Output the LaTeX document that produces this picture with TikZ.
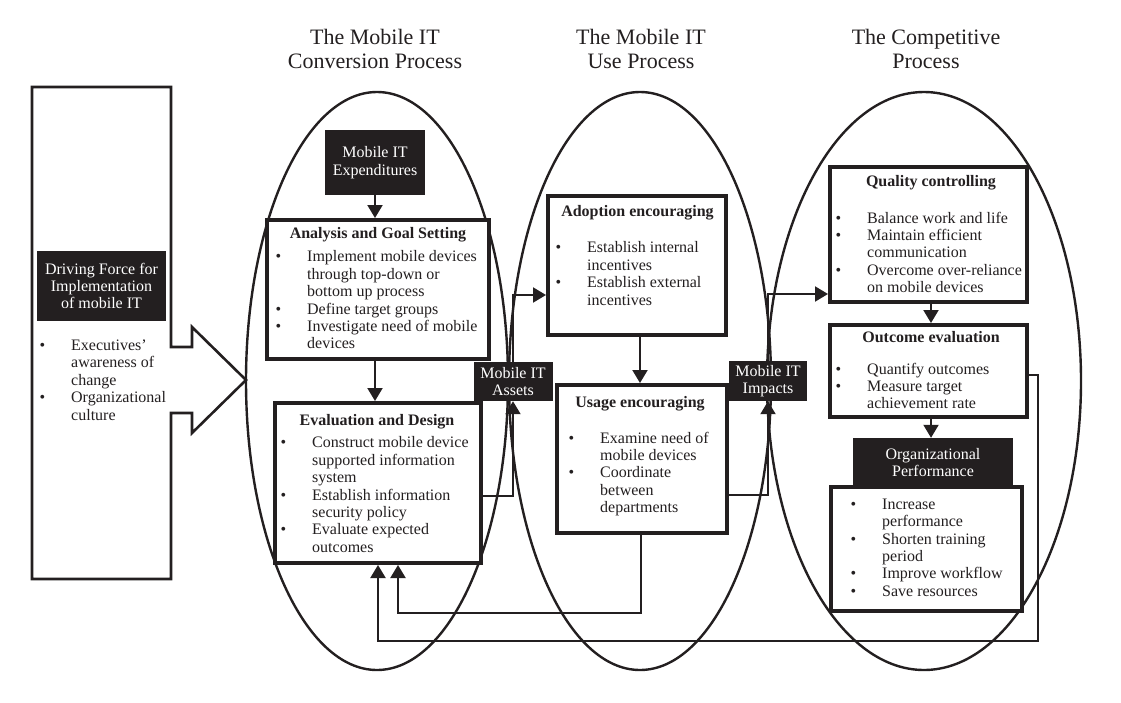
\documentclass[tikz,border=0pt]{standalone}
\usepackage{fontspec}
\setmainfont{Liberation Serif}
\usetikzlibrary{arrows.meta}
\definecolor{ink}{RGB}{35,31,32}
\newcommand\bul{\llap{\textbullet\hspace{26pt}}}
\begin{document}
\begin{tikzpicture}[x=1pt,y=-1pt,
  every node/.style={font=\fontsize{16}{17.4}\selectfont, text=ink},
  sz/.style 2 args={minimum width=#1pt, minimum height=#2pt},
  wbox/.style={draw=ink, line width=4pt, fill=white, inner sep=0pt, rectangle},
  bbox/.style={fill=ink, text=white, inner sep=0pt, align=center},
  lst/.style={anchor=north west, inner sep=0pt, align=left},
  ttl/.style={font=\fontsize{16}{17.4}\selectfont\bfseries, inner sep=0pt, text height=11pt, text depth=3.5pt},
  hdr/.style={font=\fontsize{22}{24}\selectfont, align=center, inner sep=0pt},
  arr/.style={draw=ink, line width=2pt, -{Triangle[width=15pt,length=13pt]}},
  ln/.style={draw=ink, line width=2pt},
  ell/.style={draw=ink, line width=2.4pt}]
\useasboundingbox (0,0) rectangle (1121,702);

% headers
\node[hdr] (h1) at (375,49) {The Mobile IT\\Conversion Process};
\node[hdr] (h2) at (641,49) {The Mobile IT\\Use Process};
\node[hdr] (h3) at (926,49) {The Competitive\\Process};

% process ellipses
\draw[ell] (377,381) ellipse [x radius=131pt, y radius=289pt];
\draw[ell] (640,381) ellipse [x radius=131pt, y radius=289pt];
\draw[ell] (924,381) ellipse [x radius=157pt, y radius=289pt];

% driving force block arrow
\coordinate (tip) at (246,380);
\draw[draw=ink, line width=2.6pt, line join=miter]
  (32,87) -- (171,87) -- (171,347) -- (192,347) -- (192,327) -- (tip)
  -- (192,433) -- (192,413) -- (171,413) -- (171,579) -- (32,579) -- cycle;
\node[bbox, sz={129}{70}] (drv) at (101.5,286) {Driving Force for\\Implementation\\of mobile IT};
\node[lst] (drvl) at (71,339.6) {\bul Executives’\\awareness of\\change\\\bul Organizational\\culture};

% conversion process
\node[bbox, sz={100}{65}] (exp) at (375,162.5) {Mobile IT\\Expenditures};
\node[wbox, sz={222}{139}] (ana) at (378,289.5) {};
\node[ttl] (anat) at (378,235) {Analysis and Goal Setting};
\node[lst] (anal) at (307,250.6) {\bul Implement mobile devices\\through top-down or\\bottom up process\\\bul Define target groups\\\bul Investigate need of mobile\\devices};
\node[wbox, sz={206}{160}] (eva) at (378,483) {};
\node[ttl] (evat) at (377,422) {Evaluation and Design};
\node[lst] (eval) at (312,436.6) {\bul Construct mobile device\\supported information\\system\\\bul Establish information\\security policy\\\bul Evaluate expected\\outcomes};
\node[bbox, sz={79}{39}] (ast) at (513,381.5) {Mobile IT\\Assets};

% use process
\node[wbox, sz={178}{139}] (ado) at (637,265.5) {};
\node[ttl] (adot) at (637.5,213) {Adoption encouraging};
\node[lst] (adol) at (587,241.6) {\bul Establish internal\\incentives\\\bul Establish external\\incentives};
\node[wbox, sz={170}{148}] (use) at (642,459) {};
\node[ttl] (uset) at (640,404) {Usage encouraging};
\node[lst] (usel) at (600,431.6) {\bul Examine need of\\mobile devices\\\bul Coordinate\\between\\departments};
\node[bbox, sz={78}{40}] (imp) at (768,381) {Mobile IT\\Impacts};

% competitive process
\node[wbox, sz={197}{135}] (qua) at (928.5,234.5) {};
\node[ttl] (quat) at (931,183) {Quality controlling};
\node[lst] (qual) at (867,211.6) {\bul Balance work and life\\\bul Maintain efficient\\communication\\\bul Overcome over-reliance\\on mobile devices};
\node[wbox, sz={197}{92}] (out) at (928.5,371) {};
\node[ttl] (outt) at (931,339) {Outcome evaluation};
\node[lst] (outl) at (867,362.6) {\bul Quantify outcomes\\\bul Measure target\\achievement rate};
\node[wbox, sz={191}{124}] (orgw) at (926.5,549) {};
\node[bbox, sz={160}{49}] (orgb) at (933,462.5) {Organizational\\Performance};
\node[lst] (orgl) at (882,498.6) {\bul Increase\\performance\\\bul Shorten training\\period\\\bul Improve workflow\\\bul Save resources};

% connectors
\coordinate (c1) at (375,0);
\coordinate (c2) at (931,0);
\draw[arr] (exp.south) -- (exp.south |- ana.north);
\draw[arr] (ana.south -| exp.south) -- (eva.north -| exp.south);
\coordinate (a1) at (513,496);
\coordinate (a2) at (513,295);
\draw[arr] (eva.east |- a1) -- (a1) -- (ast.south);
\draw[arr] (ast.north) -- (a2) -- (ado.west |- a2);
\draw[arr] (ado.south -| 640,0) -- (use.north -| 640,0);
\coordinate (b1) at (768,495);
\coordinate (b2) at (768,294);
\draw[arr] (use.east |- b1) -- (b1) -- (imp.south);
\draw[arr] (imp.north) -- (b2) -- (qua.west |- b2);
\draw[arr] (qua.south -| c2) -- (out.north -| c2);
\draw[arr] (out.south -| c2) -- (orgb.north -| c2);
\coordinate (f0) at (1038,375);
\coordinate (f2) at (378,641);
\draw[arr] (out.east |- f0) -- (f0) |- (f2) -- (eva.south -| f2);
\coordinate (g2) at (398,613);
\draw[arr] (use.south -| 641,0) |- (g2) -- (eva.south -| g2);
\end{tikzpicture}
\end{document}
